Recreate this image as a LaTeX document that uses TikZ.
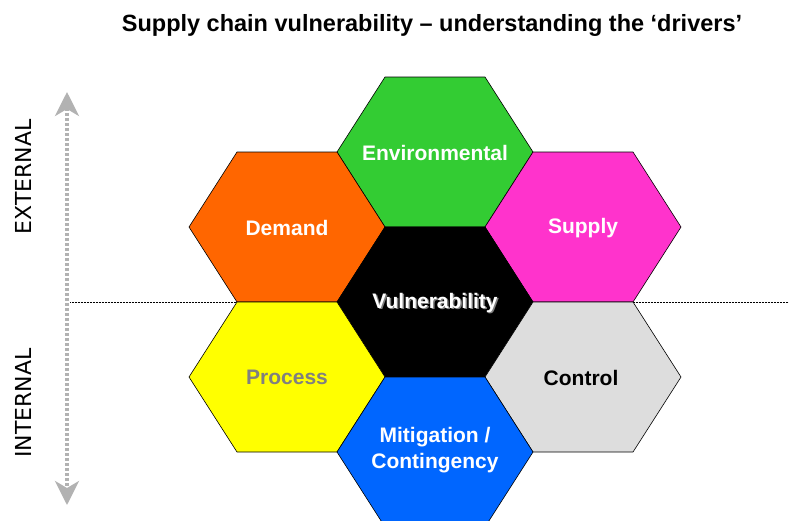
\documentclass[tikz,border=0pt]{standalone}
\usepackage{fontspec}
\setmainfont{Liberation Sans}
\newfontfamily\sidefont{DejaVu Sans}
\usepackage{xcolor}
\usetikzlibrary{arrows.meta}

\definecolor{envgreen}{RGB}{51,204,51}
\definecolor{demorange}{RGB}{255,102,0}
\definecolor{supmagenta}{RGB}{255,51,204}
\definecolor{proyellow}{RGB}{255,255,0}
\definecolor{ctrlgray}{RGB}{221,221,221}
\definecolor{mitblue}{RGB}{0,102,255}
\definecolor{axisgray}{RGB}{178,178,178}

\tikzset{
  hexcell/.style={draw=black, line width=0.6pt},
  hexlabel/.style={font=\fontsize{21}{26}\selectfont\bfseries, text=white, align=center},
  sidelabel/.style={font=\sidefont\fontsize{22}{26}\selectfont, rotate=90},
  axisline/.style={draw=axisgray, line width=3.5pt, dash pattern={on 3pt off 2pt},
    {Stealth[length=24pt,width=24pt,inset=7pt,fill=axisgray]}-{Stealth[length=24pt,width=24pt,inset=7pt,fill=axisgray]}},
}

\begin{document}
\begin{tikzpicture}[x=1pt,y=1pt,yscale=-1,xscale=1]
    \useasboundingbox (0,0) rectangle (789,520);
    \clip (0,0) rectangle (789,520);
    % divider external / internal
    \coordinate (divl) at (70,302);
    \coordinate (divr) at (789,302);
    \draw [line width=0.5pt, dash pattern={on 0.7pt off 0.8pt}] (divl) -- (divr);
    % hexagons
    \draw [hexcell, fill=envgreen, shift={(435,152)}] (-98,0) -- (-50,-75) -- (50,-75) -- (98,0) -- (50,75) -- (-50,75) -- cycle ;
    \draw [hexcell, fill=demorange, shift={(287,227)}] (-98,0) -- (-50,-75) -- (50,-75) -- (98,0) -- (50,75) -- (-50,75) -- cycle ;
    \draw [hexcell, fill=supmagenta, shift={(583,227)}] (-98,0) -- (-50,-75) -- (50,-75) -- (98,0) -- (50,75) -- (-50,75) -- cycle ;
    \draw [hexcell, fill=black, shift={(435,302)}] (-98,0) -- (-50,-75) -- (50,-75) -- (98,0) -- (50,75) -- (-50,75) -- cycle ;
    \draw [hexcell, fill=proyellow, shift={(287,377)}] (-98,0) -- (-50,-75) -- (50,-75) -- (98,0) -- (50,75) -- (-50,75) -- cycle ;
    \draw [hexcell, fill=ctrlgray, shift={(583,377)}] (-98,0) -- (-50,-75) -- (50,-75) -- (98,0) -- (50,75) -- (-50,75) -- cycle ;
    \draw [hexcell, fill=mitblue, shift={(435,452)}] (-98,0) -- (-50,-75) -- (50,-75) -- (98,0) -- (50,75) -- (-50,75) -- cycle ;
    % labels
    \node [hexlabel] (environmental) at (435,153) {Environmental};
    \node [hexlabel] (demand) at (287,228) {Demand};
    \node [hexlabel] (supply) at (583,228) {Supply};
    \node [hexlabel, text=gray] (vulnshadow) at (436.5,304.5) {Vulnerability};
    \node [hexlabel] (vulnerability) at (435,303) {Vulnerability};
    \node [hexlabel, text={rgb,255:red,128;green,128;blue,128}] (process) at (287,377) {Process};
    \node [hexlabel, text=black] (control) at (581,378) {Control};
    \node [hexlabel] (mitigation) at (435,450) {Mitigation /\\Contingency};
    % axis
    \coordinate (exttip) at (67,92);
    \coordinate (inttip) at (67,505);
    \draw [axisline] (exttip) -- (inttip);
    \node [sidelabel] (external) at (23,177) {EXTERNAL};
    \node [sidelabel] (internal) at (23,403) {INTERNAL};
    % title
    \node [font=\fontsize{23.5}{28}\selectfont\bfseries] (title) at (432,25) {Supply chain vulnerability – understanding the ‘drivers’};
\end{tikzpicture}
\end{document}
